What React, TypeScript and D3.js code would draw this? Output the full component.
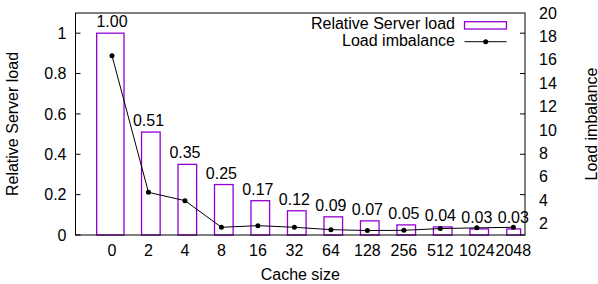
import React from "react";
import * as d3 from "d3";

// chart data
const cacheSizes = ["0", "2", "4", "8", "16", "32", "64", "128", "256", "512", "1024", "2048"];
const serverLoad = [1.0, 0.51, 0.35, 0.25, 0.17, 0.12, 0.09, 0.07, 0.05, 0.04, 0.03, 0.03];
const loadLabels = ["1.00", "0.51", "0.35", "0.25", "0.17", "0.12", "0.09", "0.07", "0.05", "0.04", "0.03", "0.03"];
const imbalance = [16.35, 4.65, 3.94, 1.66, 1.8, 1.66, 1.46, 1.38, 1.4, 1.55, 1.61, 1.66];
const yTicks = [0, 0.2, 0.4, 0.6, 0.8, 1];
const y2Ticks = [2, 4, 6, 8, 10, 12, 14, 16, 18, 20];

const W = 598;
const H = 284;
const margin = { top: 13, right: 73, bottom: 49, left: 75.5 };
const FONT = "'Liberation Sans', Arial, sans-serif";
const FS = 16;
const violet = "#9400d3";

export default function App() {
  const x0 = margin.left;
  const x1 = W - margin.right;
  const yTop = margin.top;
  const yBot = H - margin.bottom;

  const x = d3.scaleLinear().domain([-1, 11.32]).range([x0, x1]);
  const y = d3.scaleLinear().domain([0, 1.1]).range([yBot, yTop]);
  const y2 = d3.scaleLinear().domain([1, 20]).range([yBot, yTop]);

  // gnuplot-style auto box widths: first box wider, last narrower
  const boxEdges = (i: number): [number, number] => {
    if (i === 0) return [i - 0.42, i + 0.33];
    if (i === cacheSizes.length - 1) return [i - 0.18, i + 0.2];
    return [i - 0.19, i + 0.32];
  };

  const line = d3
    .line<number>()
    .x((_, i) => x(i))
    .y((d) => y2(d));

  return (
    <svg
      width={W}
      height={H}
      style={{ position: "absolute", left: 0, top: 0, background: "#fff" }}
      fontFamily={FONT}
      fontSize={FS}
    >
      <rect width={W} height={H} fill="#fff" />

      {/* bars */}
      {serverLoad.map((v, i) => {
        const [a, b] = boxEdges(i);
        return (
          <rect
            key={"b" + i}
            x={x(a)}
            y={y(v)}
            width={x(b) - x(a)}
            height={y(0) - y(v)}
            fill="none"
            stroke={violet}
            strokeWidth={1.3}
          />
        );
      })}

      {/* bar value labels */}
      {serverLoad.map((v, i) => (
        <text key={"l" + i} x={x(i)} y={y(v) - 6} textAnchor="middle" fill="#000">
          {loadLabels[i]}
        </text>
      ))}

      {/* load imbalance line */}
      <path d={line(imbalance) || ""} fill="none" stroke="#000" strokeWidth={1} />
      {imbalance.map((v, i) => (
        <circle key={"p" + i} cx={x(i)} cy={y2(v)} r={2.5} fill="#000" />
      ))}

      {/* border */}
      <rect x={x0} y={yTop} width={x1 - x0} height={yBot - yTop} fill="none" stroke="#000" strokeWidth={1} />

      {/* left ticks (mirrored on the right) */}
      {yTicks.map((t) => (
        <g key={"yt" + t}>
          <line x1={x0} x2={x0 + 5} y1={y(t)} y2={y(t)} stroke="#000" />
          <line x1={x1} x2={x1 - 5} y1={y(t)} y2={y(t)} stroke="#000" />
          <text x={x0 - 9} y={y(t)} dy="0.36em" textAnchor="end">
            {t}
          </text>
        </g>
      ))}

      {/* right axis labels */}
      {y2Ticks.map((t) => (
        <text key={"y2" + t} x={x1 + 14} y={y2(t)} dy="0.36em" textAnchor="start">
          {t}
        </text>
      ))}

      {/* x labels */}
      {cacheSizes.map((c, i) => (
        <text key={"x" + c} x={x(i)} y={yBot + 20.5} textAnchor="middle">
          {c}
        </text>
      ))}

      {/* axis titles */}
      <text x={(x0 + x1) / 2} y={280} textAnchor="middle">
        Cache size
      </text>
      <text transform={`translate(18,${(yTop + yBot) / 2}) rotate(-90)`} textAnchor="middle">
        Relative Server load
      </text>
      <text transform={`translate(596.5,${(yTop + yBot) / 2}) rotate(-90)`} textAnchor="middle">
        Load imbalance
      </text>

      {/* legend */}
      <text x={455} y={29.3} textAnchor="end">
        Relative Server load
      </text>
      <rect x={464.5} y={21.7} width={42} height={7.3} fill="none" stroke={violet} strokeWidth={1.3} />
      <text x={455} y={45.8} textAnchor="end">
        Load imbalance
      </text>
      <line x1={464.5} x2={506.5} y1={41.7} y2={41.7} stroke="#000" />
      <circle cx={485.7} cy={41.7} r={2.5} fill="#000" />
    </svg>
  );
}
